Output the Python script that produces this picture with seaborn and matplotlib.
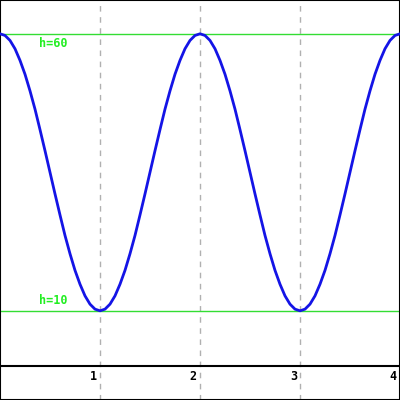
import numpy as np
import pandas as pd
import seaborn as sns
import matplotlib.pyplot as plt

# height h sampled every 0.05 along x from 0 to 4
x_vals = [round(i * 0.05, 2) for i in range(81)]
h_vals = [
    60.0, 59.7, 58.8, 57.3, 55.2, 52.7, 49.7, 46.4, 42.7, 38.9,
    35.0, 31.1, 27.3, 23.6, 20.3, 17.3, 14.8, 12.7, 11.2, 10.3,
    10.0, 10.3, 11.2, 12.7, 14.8, 17.3, 20.3, 23.6, 27.3, 31.1,
    35.0, 38.9, 42.7, 46.4, 49.7, 52.7, 55.2, 57.3, 58.8, 59.7,
    60.0, 59.7, 58.8, 57.3, 55.2, 52.7, 49.7, 46.4, 42.7, 38.9,
    35.0, 31.1, 27.3, 23.6, 20.3, 17.3, 14.8, 12.7, 11.2, 10.3,
    10.0, 10.3, 11.2, 12.7, 14.8, 17.3, 20.3, 23.6, 27.3, 31.1,
    35.0, 38.9, 42.7, 46.4, 49.7, 52.7, 55.2, 57.3, 58.8, 59.7,
    60.0,
]
ref_levels = [60, 10]
ref_labels = ['h=60', 'h=10']
x_ticks = [1, 2, 3, 4]
tick_labels = ['1', '2', '3', '4']

data = pd.DataFrame({'x': x_vals, 'h': h_vals})

sns.set_style('white')
fig = plt.figure(figsize=(4, 4), dpi=100)
ax = fig.add_axes([0, 0, 1, 1])

mono = {'family': 'DejaVu Sans Mono', 'weight': 'bold', 'size': 8.5}

for t in x_ticks[:-1]:
    ax.axvline(t, color='#b0b0b0', lw=1, ls=(0, (4, 4)), zorder=1)

ax.axhline(0, color='black', lw=1.5, zorder=2)

for lvl, lab in zip(ref_levels, ref_labels):
    ax.axhline(lvl, color='#33dd33', lw=1, zorder=2)
    if lvl == max(ref_levels):
        ax.text(0.39, lvl - 0.6, lab, color='#22ee22', ha='left', va='top', fontdict=mono)
    else:
        ax.text(0.39, lvl + 0.6, lab, color='#22ee22', ha='left', va='bottom', fontdict=mono)

sns.lineplot(data=data, x='x', y='h', color='#1414e6', lw=2, ax=ax, zorder=3)

for t, lab in zip(x_ticks, tick_labels):
    ax.text(t - 0.03, -0.7, lab, ha='right', va='top', color='black', fontdict=mono)

ax.set_xlim(0, 4)
ax.set_ylim(-6.1, 66.1)
ax.set_xticks([])
ax.set_yticks([])
ax.set_xlabel('')
ax.set_ylabel('')
for s in ax.spines.values():
    s.set_visible(True)
    s.set_color('black')
    s.set_linewidth(1.5)

plt.savefig('out.png', dpi=100)
